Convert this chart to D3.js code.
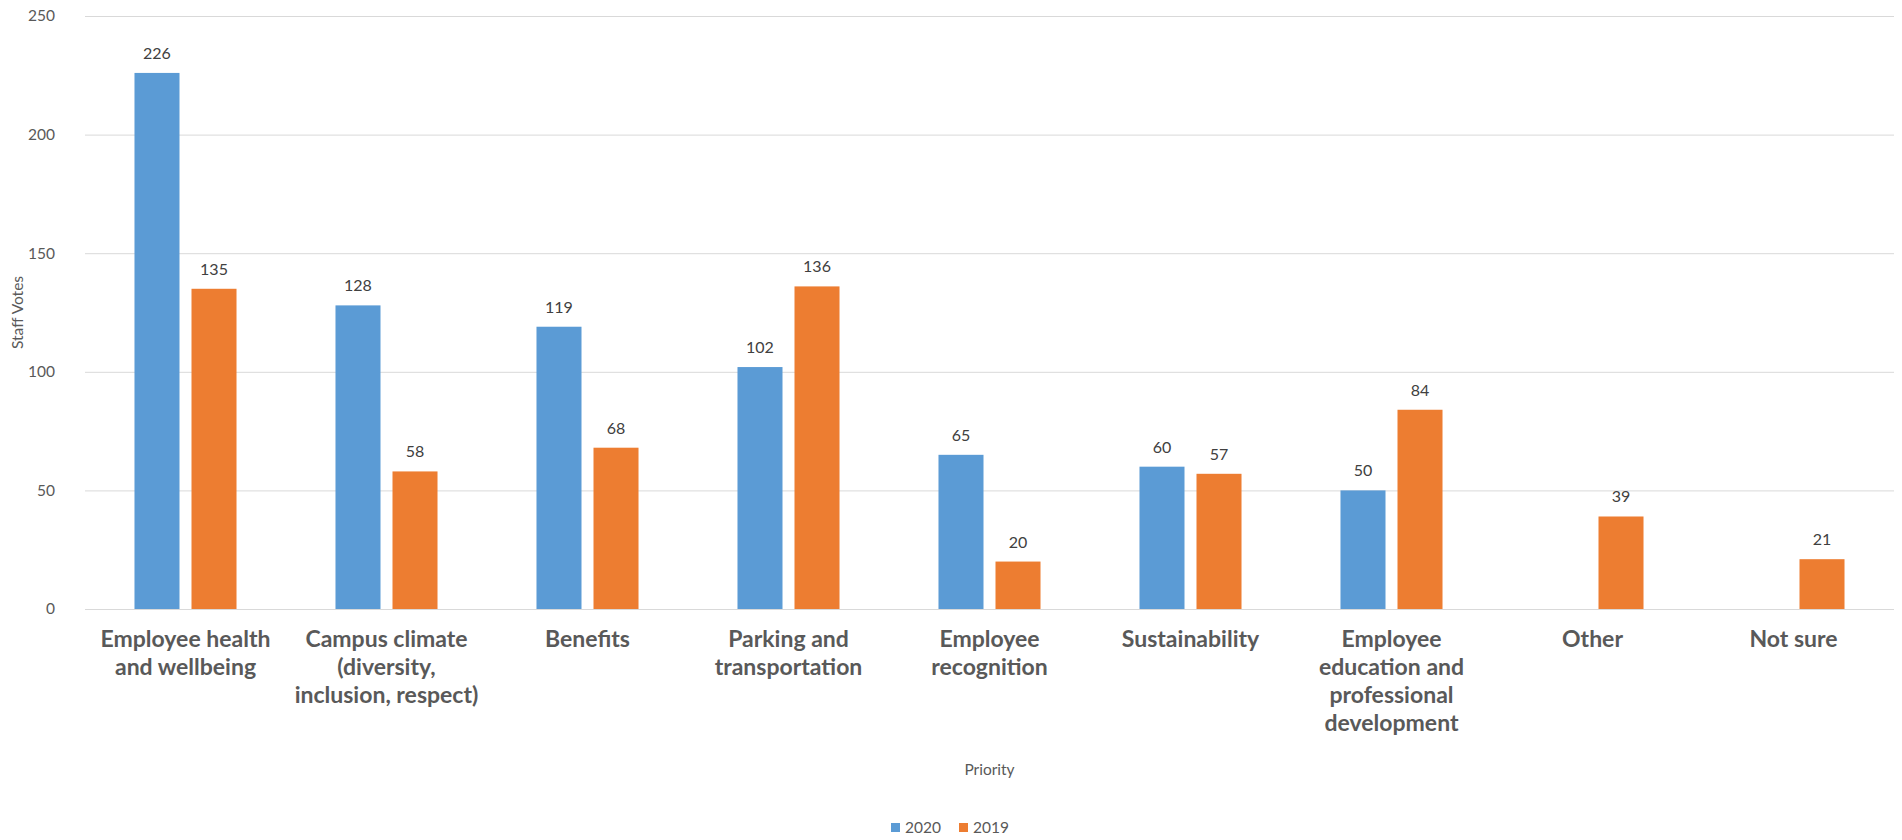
<!DOCTYPE html>
<html>
<head>
<meta charset="utf-8">
<script src="https://cdn.jsdelivr.net/npm/d3@7"></script>
<style>
  html, body { margin: 0; padding: 0; background: #ffffff; }
  svg { display: block; }
</style>
</head>
<body>
<svg id="chart" width="1902" height="840"></svg>
<script>
const categories = [
  "Employee health and wellbeing",
  "Campus climate (diversity, inclusion, respect)",
  "Benefits",
  "Parking and transportation",
  "Employee recognition",
  "Sustainability",
  "Employee education and professional development",
  "Other",
  "Not sure"
];
const categoryLines = [
  ["Employee health", "and wellbeing"],
  ["Campus climate", "(diversity,", "inclusion, respect)"],
  ["Benefits"],
  ["Parking and", "transportation"],
  ["Employee", "recognition"],
  ["Sustainability"],
  ["Employee", "education and", "professional", "development"],
  ["Other"],
  ["Not sure"]
];
const seriesNames = ["2020", "2019"];
const values2020 = [226, 128, 119, 102, 65, 60, 50, null, null];
const values2019 = [135, 58, 68, 136, 20, 57, 84, 39, 21];
const seriesColors = ["#5b9bd5", "#ed7d31"];
const yTicks = [0, 50, 100, 150, 200, 250];
const yTitle = "Staff Votes";
const xTitle = "Priority";

const svg = d3.select("#chart");
const margin = {left: 85, right: 8, top: 16, bottom: 231};
const W = 1902, H = 840;
const plotW = W - margin.left - margin.right;
const plotH = H - margin.top - margin.bottom;
const FONT = "Lato, 'Open Sans', sans-serif";

const g = svg.append("g").attr("transform", `translate(${margin.left},${margin.top})`);

const x0 = d3.scaleBand().domain(categories).range([0, plotW]).padding(0);
const x1 = d3.scaleBand().domain(seriesNames).range([0, x0.bandwidth()])
  .paddingInner(12 / 57).paddingOuter(0.868);
const y = d3.scaleLinear().domain([0, 250]).range([plotH, 0]);

// gridlines
g.append("g").selectAll("line").data(yTicks).join("line")
  .attr("x1", 0).attr("x2", plotW)
  .attr("y1", d => y(d) + 0.5).attr("y2", d => y(d) + 0.5)
  .attr("stroke", "#d9d9d9").attr("stroke-width", 1);

// y axis labels
const yAxis = d3.axisLeft(y).tickValues(yTicks).tickSize(0).tickPadding(0);
const yg = g.append("g").attr("transform", "translate(-30,0)").call(yAxis);
yg.select(".domain").remove();
yg.selectAll("text")
  .attr("font-family", FONT)
  .attr("font-size", 15.5).attr("fill", "#595959");

// data rows
const rows = categories.map((c, i) => ({cat: c, vals: [values2020[i], values2019[i]]}));

const groups = g.selectAll(".grp").data(rows).join("g")
  .attr("class", "grp")
  .attr("transform", d => `translate(${x0(d.cat)},0)`);

groups.selectAll("rect")
  .data(d => d.vals.map((v, j) => ({s: seriesNames[j], v, j})).filter(e => e.v !== null))
  .join("rect")
  .attr("x", e => x1(e.s))
  .attr("width", x1.bandwidth())
  .attr("y", e => y(e.v))
  .attr("height", e => y(0) - y(e.v))
  .attr("fill", e => seriesColors[e.j]);

groups.selectAll("text.lbl")
  .data(d => d.vals.map((v, j) => ({s: seriesNames[j], v, j})).filter(e => e.v !== null))
  .join("text")
  .attr("class", "lbl")
  .attr("x", e => x1(e.s) + x1.bandwidth() / 2)
  .attr("y", e => y(e.v) - 14)
  .attr("text-anchor", "middle")
  .attr("font-family", FONT)
  .attr("font-size", 16).attr("fill", "#404040")
  .text(e => e.v);

// category labels
const catG = g.append("g");
categories.forEach((c, i) => {
  const t = catG.append("text")
    .attr("x", x0(c) + x0.bandwidth() / 2)
    .attr("y", plotH + 38)
    .attr("text-anchor", "middle")
    .attr("font-family", FONT)
    .attr("font-weight", "bold")
    .attr("font-size", 23).attr("fill", "#595959");
  categoryLines[i].forEach((ln, k) => {
    t.append("tspan").attr("x", x0(c) + x0.bandwidth() / 2)
      .attr("dy", k === 0 ? 0 : 28).text(ln);
  });
});

// axis titles
svg.append("text")
  .attr("transform", `translate(23,${margin.top + plotH / 2}) rotate(-90)`)
  .attr("text-anchor", "middle")
  .attr("font-family", FONT)
  .attr("font-size", 15.5).attr("fill", "#595959")
  .text(yTitle);

svg.append("text")
  .attr("x", margin.left + plotW / 2).attr("y", 775)
  .attr("text-anchor", "middle")
  .attr("font-family", FONT)
  .attr("font-size", 15.5).attr("fill", "#595959")
  .text(xTitle);

// legend
const legend = svg.append("g");
const legX = [891, 959];
seriesNames.forEach((s, j) => {
  legend.append("rect").attr("x", legX[j]).attr("y", 823).attr("width", 9).attr("height", 9)
    .attr("fill", seriesColors[j]);
  legend.append("text").attr("x", legX[j] + 14).attr("y", 833)
    .attr("font-family", FONT)
    .attr("font-size", 15.5).attr("fill", "#595959").text(s);
});
</script>
</body>
</html>
